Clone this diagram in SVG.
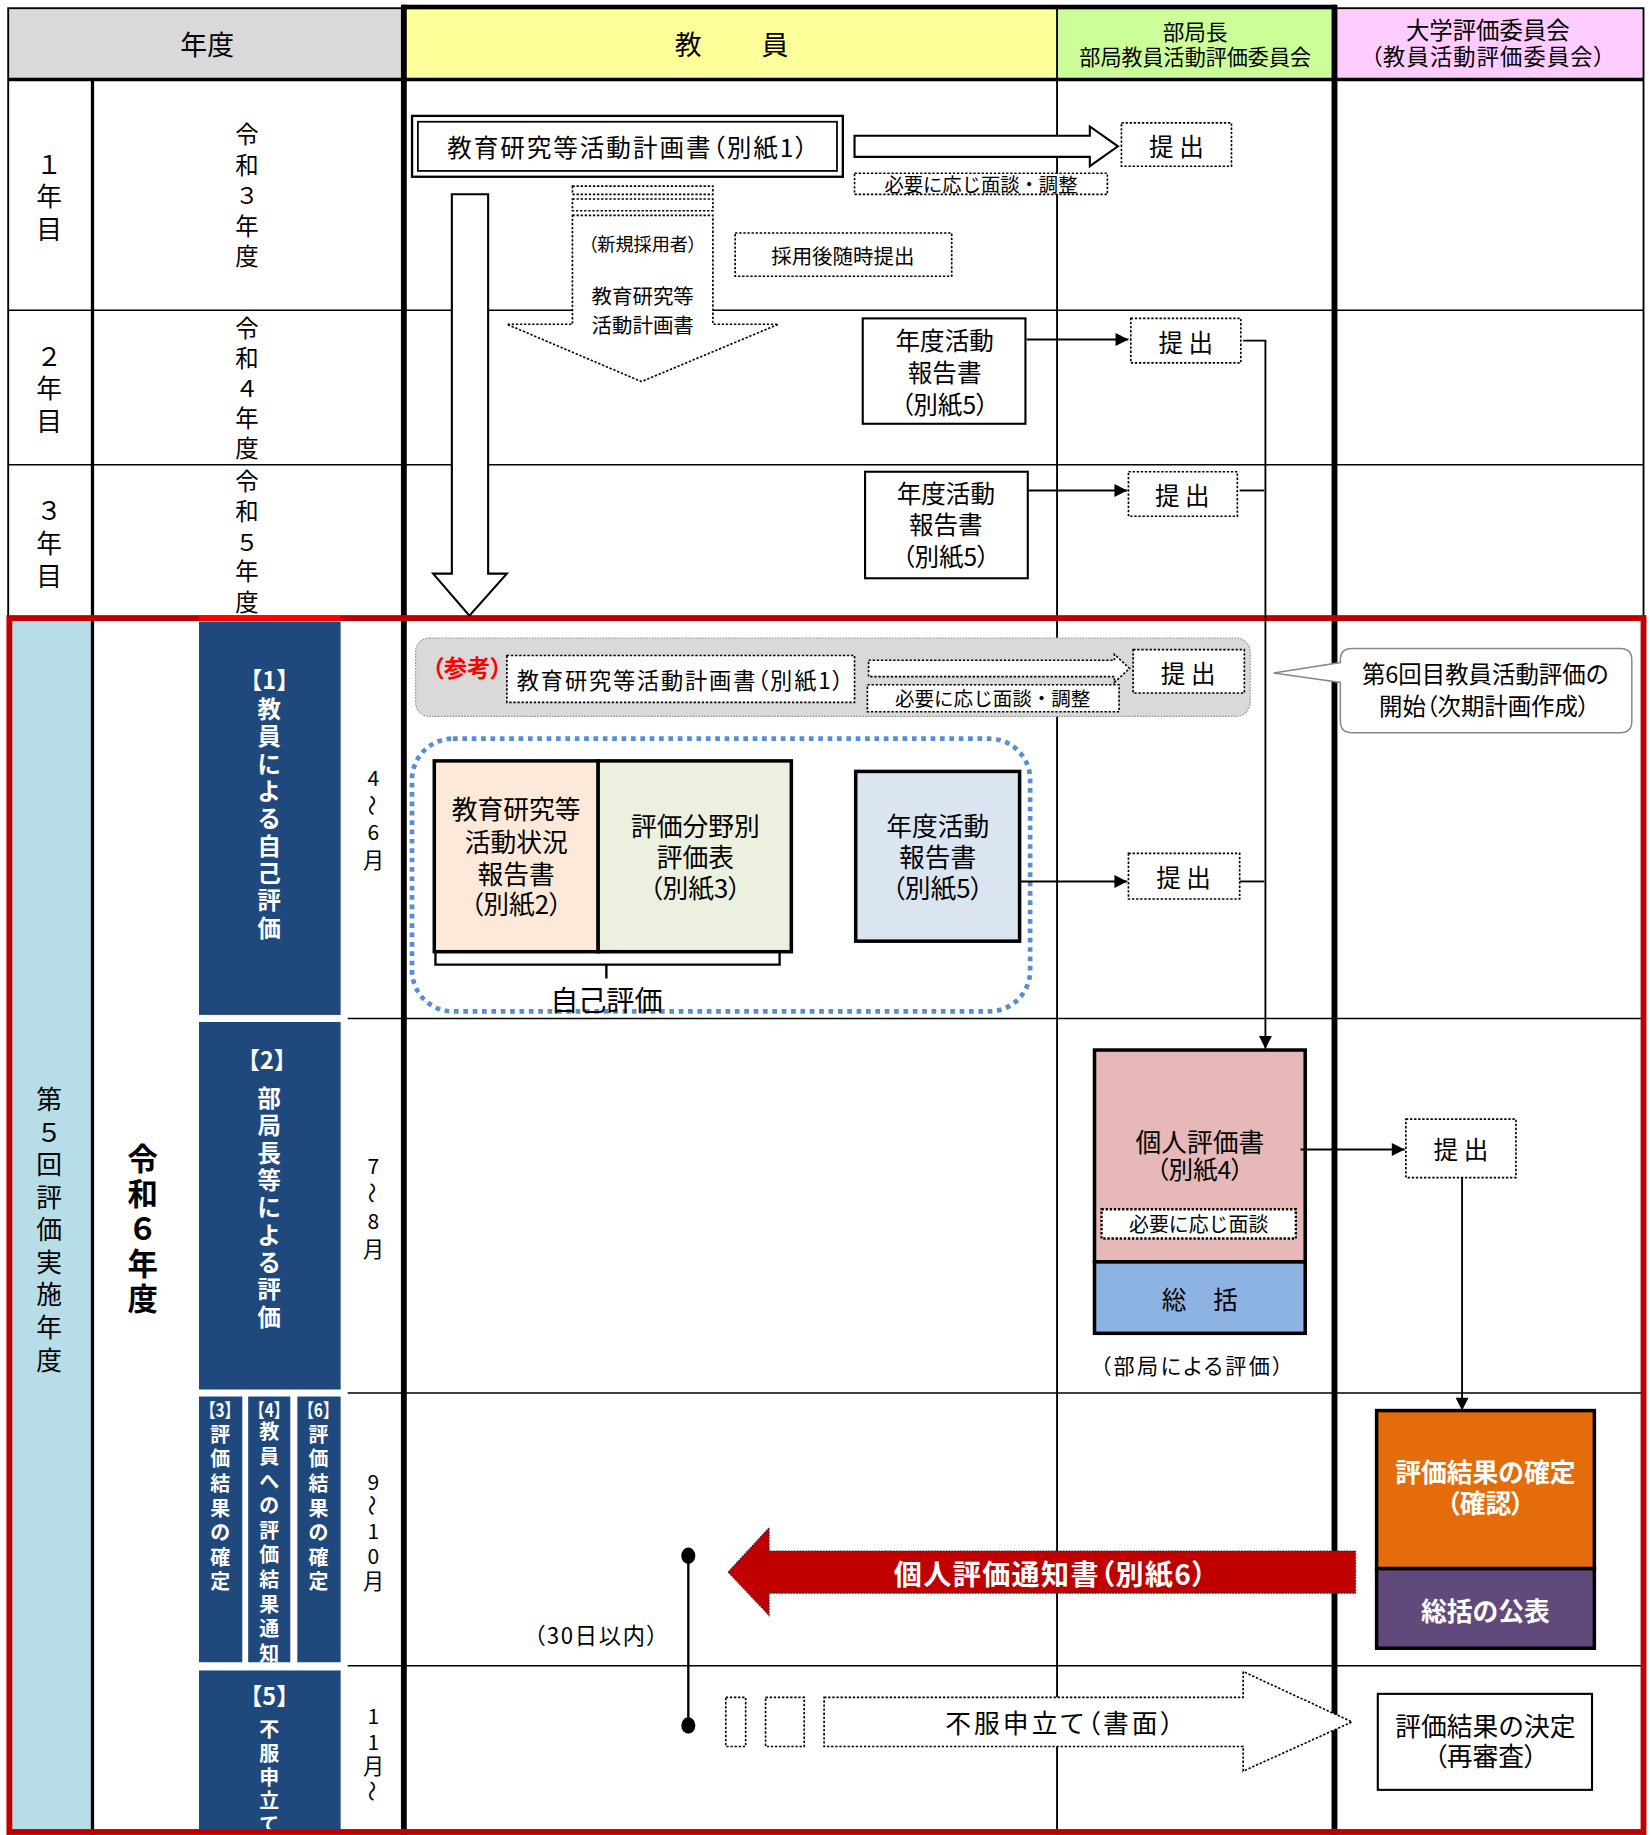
<svg xmlns="http://www.w3.org/2000/svg" width="1651" height="1835" viewBox="0 0 1651 1835">
<defs>
<style>
text{font-family:"Noto Sans CJK JP","Noto Sans",sans-serif;fill:#000;text-anchor:middle;dominant-baseline:central}
.p{font-feature-settings:"palt"}
.b{font-weight:bold}
.w{fill:#fff}
.dot{fill:#fff;stroke:#000;stroke-width:1.4;stroke-dasharray:2 1.5}
.box{fill:#fff;stroke:#000;stroke-width:1.8}
.thin{stroke:#000;stroke-width:1.3;fill:none}
.conn{stroke:#000;stroke-width:1.6;fill:none}
.navy{fill:#1f497d}
</style>
<marker id="ah" viewBox="0 0 10 10" refX="10" refY="5" markerWidth="13" markerHeight="11" markerUnits="userSpaceOnUse" orient="auto"><path d="M0,0 L10,5 L0,10 z" fill="#000"/></marker>
</defs>
<rect width="1651" height="1835" fill="#fff"/>
<g transform="scale(1.1706)">

<g id="grid">
<rect x="7" y="7" width="336" height="61" fill="#d9d9d9"/>
<rect x="345" y="7" width="558" height="61" fill="#ffff99"/>
<rect x="903" y="7" width="237" height="61" fill="#ccff99"/>
<rect x="1140" y="7" width="264" height="61" fill="#ffccff"/>
<rect x="9" y="530" width="69" height="1036" fill="#b7dde8"/>
<line x1="7" y1="68" x2="1404" y2="68" stroke="#000" stroke-width="3"/>
<line x1="7" y1="265" x2="1404" y2="265" class="thin"/>
<line x1="7" y1="397" x2="1404" y2="397" class="thin"/>
<line x1="297" y1="870" x2="1404" y2="870" class="thin"/>
<line x1="297" y1="1190" x2="1404" y2="1190" class="thin"/>
<line x1="297" y1="1423" x2="1404" y2="1423" class="thin"/>
<line x1="79" y1="68" x2="79" y2="1568" stroke="#000" stroke-width="2.8"/>
<line x1="903" y1="7" x2="903" y2="1568" stroke="#000" stroke-width="1.6"/>
<rect x="7" y="7" width="1397" height="1565" fill="none" stroke="#000" stroke-width="1.6"/>
<line x1="345" y1="4" x2="345" y2="1568" stroke="#000" stroke-width="5"/>
<line x1="1140" y1="4" x2="1140" y2="1568" stroke="#000" stroke-width="5"/>
<line x1="343" y1="6" x2="1142" y2="6" stroke="#000" stroke-width="4"/>
</g>

<g id="headers">
<text x="177" y="37" font-size="23">年度</text>
<text x="588" y="37" font-size="23">教</text>
<text x="662" y="37" font-size="23">員</text>
<text x="1021" y="26" font-size="18.5">部局長</text>
<text x="1021" y="48" font-size="18">部局教員活動評価委員会</text>
<text x="1271" y="25" font-size="20">大学評価委員会</text>
<text x="1271" y="47" font-size="19" class="p" textLength="200">（教員活動評価委員会）</text>
</g>

<g id="year-labels">
<text font-size="22"><tspan x="42" y="138">１</tspan><tspan x="42" y="166">年</tspan><tspan x="42" y="194">目</tspan></text>
<text font-size="20"><tspan x="211" y="114">令</tspan><tspan x="211" y="140">和</tspan><tspan x="211" y="166">３</tspan><tspan x="211" y="192">年</tspan><tspan x="211" y="218">度</tspan></text>
<text font-size="22"><tspan x="42" y="302">２</tspan><tspan x="42" y="330">年</tspan><tspan x="42" y="358">目</tspan></text>
<text font-size="20"><tspan x="211" y="279">令</tspan><tspan x="211" y="305">和</tspan><tspan x="211" y="331">４</tspan><tspan x="211" y="356">年</tspan><tspan x="211" y="382">度</tspan></text>
<text font-size="22"><tspan x="42" y="434">３</tspan><tspan x="42" y="462">年</tspan><tspan x="42" y="490">目</tspan></text>
<text font-size="20"><tspan x="211" y="410">令</tspan><tspan x="211" y="436">和</tspan><tspan x="211" y="462">５</tspan><tspan x="211" y="487">年</tspan><tspan x="211" y="513">度</tspan></text>
<text font-size="22"><tspan x="42" y="937">第</tspan><tspan x="42" y="965">５</tspan><tspan x="42" y="993">回</tspan><tspan x="42" y="1021">評</tspan><tspan x="42" y="1048">価</tspan><tspan x="42" y="1076">実</tspan><tspan x="42" y="1104">施</tspan><tspan x="42" y="1132">年</tspan><tspan x="42" y="1160">度</tspan></text>
<text font-size="26" class="b"><tspan x="122" y="988">令</tspan><tspan x="122" y="1018">和</tspan><tspan x="122" y="1048">６</tspan><tspan x="122" y="1078">年</tspan><tspan x="122" y="1108">度</tspan></text>
</g>

<g id="phase-1">
<rect x="170" y="531" width="121" height="336" class="navy"/>
<text x="230" y="580" font-size="20" class="b w">【1】</text>
<text font-size="20" class="b w"><tspan x="230" y="605">教</tspan><tspan x="230" y="628">員</tspan><tspan x="230" y="652">に</tspan><tspan x="230" y="675">よ</tspan><tspan x="230" y="698">る</tspan><tspan x="230" y="722">自</tspan><tspan x="230" y="745">己</tspan><tspan x="230" y="768">評</tspan><tspan x="230" y="792">価</tspan></text>
</g>
<g id="phase-2">
<rect x="170" y="873" width="121" height="314" class="navy"/>
<text x="228" y="905" font-size="20" class="b w">【2】</text>
<text font-size="20" class="b w"><tspan x="230" y="937">部</tspan><tspan x="230" y="960">局</tspan><tspan x="230" y="984">長</tspan><tspan x="230" y="1007">等</tspan><tspan x="230" y="1030">に</tspan><tspan x="230" y="1054">よ</tspan><tspan x="230" y="1077">る</tspan><tspan x="230" y="1100">評</tspan><tspan x="230" y="1124">価</tspan></text>
</g>
<g id="phase-3">
<rect x="170" y="1193" width="37" height="227" class="navy"/>
<text x="188" y="1203" font-size="16" class="b w" textLength="34" lengthAdjust="spacingAndGlyphs">【3】</text>
<text font-size="17" class="b w"><tspan x="188" y="1224">評</tspan><tspan x="188" y="1245">価</tspan><tspan x="188" y="1266">結</tspan><tspan x="188" y="1287">果</tspan><tspan x="188" y="1308">の</tspan><tspan x="188" y="1329">確</tspan><tspan x="188" y="1350">定</tspan></text>
</g>
<g id="phase-4">
<rect x="212" y="1193" width="36" height="227" class="navy"/>
<text x="230" y="1203" font-size="16" class="b w" textLength="34" lengthAdjust="spacingAndGlyphs">【4】</text>
<text font-size="17" class="b w"><tspan x="230" y="1222">教</tspan><tspan x="230" y="1243">員</tspan><tspan x="230" y="1264">へ</tspan><tspan x="230" y="1285">の</tspan><tspan x="230" y="1306">評</tspan><tspan x="230" y="1327">価</tspan><tspan x="230" y="1348">結</tspan><tspan x="230" y="1369">果</tspan><tspan x="230" y="1390">通</tspan><tspan x="230" y="1411">知</tspan></text>
</g>
<g id="phase-6">
<rect x="254" y="1193" width="37" height="227" class="navy"/>
<text x="272" y="1203" font-size="16" class="b w" textLength="34" lengthAdjust="spacingAndGlyphs">【6】</text>
<text font-size="17" class="b w"><tspan x="272" y="1224">評</tspan><tspan x="272" y="1245">価</tspan><tspan x="272" y="1266">結</tspan><tspan x="272" y="1287">果</tspan><tspan x="272" y="1308">の</tspan><tspan x="272" y="1329">確</tspan><tspan x="272" y="1350">定</tspan></text>
</g>
<g id="phase-5">
<rect x="170" y="1427" width="121" height="139" class="navy"/>
<text x="230" y="1448" font-size="20" class="b w">【5】</text>
<text font-size="17" class="b w"><tspan x="230" y="1476">不</tspan><tspan x="230" y="1497">服</tspan><tspan x="230" y="1517">申</tspan><tspan x="230" y="1537">立</tspan><tspan x="230" y="1557">て</tspan></text>
</g>

<g id="months" font-size="18">
<text x="319" y="664">4</text><text x="319" y="688" transform="rotate(90 319 688)">～</text><text x="319" y="710">6</text><text x="319" y="734">月</text>
<text x="319" y="995">7</text><text x="319" y="1019" transform="rotate(90 319 1019)">～</text><text x="319" y="1042">8</text><text x="319" y="1066">月</text>
<text x="319" y="1265">9</text><text x="319" y="1286" transform="rotate(90 319 1286)">～</text><text x="319" y="1307">1</text><text x="319" y="1328">0</text><text x="319" y="1350">月</text>
<text x="319" y="1465">1</text><text x="319" y="1487">1</text><text x="319" y="1508">月</text><text x="319" y="1530" transform="rotate(90 319 1530)">～</text>
</g>

<g id="red-frame">
<rect x="8" y="528" width="1396" height="1037" fill="none" stroke="#c00000" stroke-width="5"/>
<line x1="170" y1="528" x2="291" y2="528" stroke="#ff0000" stroke-width="4"/>
</g>

<g id="plan-box">
<rect x="352" y="99" width="368" height="52" fill="#fff" stroke="#000" stroke-width="2"/>
<rect x="357" y="104" width="358" height="42" fill="none" stroke="#000" stroke-width="1.5"/>
<text x="536" y="125" font-size="21" class="p" textLength="308">教育研究等活動計画書（別紙1）</text>
</g>
<g id="big-down-arrow">
<polygon points="386,166 417,166 417,490 433,490 401,526 370,490 386,490" class="box" stroke-width="1.5"/>
</g>
<g id="plan-submit-arrow">
<polygon points="730,116 931,116 931,108 955,125 931,142 931,134 730,134" class="box" stroke-width="1.5"/>
</g>
<g id="plan-talk">
<rect x="730" y="148" width="216" height="18" class="dot"/>
<text x="838" y="157" font-size="16.5">必要に応じ面談・調整</text>
</g>
<g id="submit-1">
<rect x="958" y="105" width="94" height="37" class="dot"/>
<text x="1005" y="124" font-size="21">提 出</text>
</g>
<g id="new-hire-arrow">
<rect x="489" y="159" width="120" height="7" class="dot"/>
<rect x="489" y="170" width="120" height="10" class="dot"/>
<polygon points="489,184 609,184 609,277 665,277 548,326 433,277 489,277" class="dot"/>
<text x="549" y="208" font-size="15.5" class="p">（新規採用者）</text>
<text x="549" y="252" font-size="17.5">教育研究等</text>
<text x="549" y="277" font-size="17.5">活動計画書</text>
</g>
<g id="hire-note">
<rect x="628" y="199" width="185" height="37" class="dot"/>
<text x="720" y="218" font-size="17.5">採用後随時提出</text>
</g>
<g id="report-y2">
<rect x="737" y="272" width="139" height="90" class="box"/>
<text x="807" y="290" font-size="21">年度活動</text>
<text x="807" y="317" font-size="21">報告書</text>
<text x="807" y="344" font-size="21" class="p">（別紙5）</text>
</g>
<g id="submit-y2">
<rect x="966" y="272" width="94" height="38" class="dot"/>
<text x="1013" y="291" font-size="21">提 出</text>
</g>
<g id="report-y3">
<rect x="739" y="403" width="139" height="91" class="box"/>
<text x="808" y="420" font-size="21">年度活動</text>
<text x="808" y="447" font-size="21">報告書</text>
<text x="808" y="474" font-size="21" class="p">（別紙5）</text>
</g>
<g id="submit-y3">
<rect x="964" y="403" width="93" height="38" class="dot"/>
<text x="1010" y="422" font-size="21">提 出</text>
</g>

<g id="reference-band">
<rect x="355" y="545" width="713" height="67" rx="12" fill="#d9d9d9" stroke="#999" stroke-width="1" stroke-dasharray="1.5 1"/>
<text x="399" y="570" font-size="20" class="b p" style="fill:#ff0000">（参考）</text>
<rect x="433" y="560" width="297" height="40" class="dot"/>
<text x="581" y="580" font-size="19" class="p" textLength="279">教育研究等活動計画書（別紙1）</text>
<polygon points="742,564 952,564 952,559 965,571 952,583 952,578 742,578" class="dot"/>
<rect x="741" y="585" width="215" height="23" class="dot"/>
<text x="848" y="596" font-size="16.7">必要に応じ面談・調整</text>
<rect x="968" y="555" width="95" height="37" class="dot"/>
<text x="1015" y="574" font-size="21">提 出</text>
</g>
<g id="callout">
<path d="M1155,554 H1384 Q1394,554 1394,564 V616 Q1394,626 1384,626 H1155 Q1145,626 1145,616 V583 L1088,575 L1145,566 V564 Q1145,554 1155,554 Z" fill="#fff" stroke="#888" stroke-width="1.3"/>
<text x="1269" y="575" font-size="20">第6回目教員活動評価の</text>
<text x="1268" y="602" font-size="20" class="p">開始（次期計画作成）</text>
</g>

<g id="self-eval">
<rect x="352" y="631" width="528" height="233" rx="35" fill="none" stroke="#558ed5" stroke-width="4" stroke-dasharray="4 4"/>
<rect x="371" y="650" width="140" height="163" fill="#fde9d9" stroke="#000" stroke-width="3"/>
<text x="441" y="690" font-size="22">教育研究等</text>
<text x="441" y="718" font-size="22">活動状況</text>
<text x="441" y="745" font-size="22">報告書</text>
<text x="441" y="771" font-size="22" class="p">（別紙2）</text>
<rect x="511" y="650" width="165" height="163" fill="#ebf1de" stroke="#000" stroke-width="3"/>
<text x="594" y="704" font-size="22">評価分野別</text>
<text x="594" y="731" font-size="22">評価表</text>
<text x="594" y="757" font-size="22" class="p">（別紙3）</text>
<path d="M372,814 V824 H666 V814 M518,824 V836" fill="none" stroke="#000" stroke-width="2"/>
<text x="518" y="853" font-size="24">自己評価</text>
</g>
<g id="report-y4">
<rect x="731" y="659" width="140" height="145" fill="#dbe5f1" stroke="#000" stroke-width="3"/>
<text x="801" y="704" font-size="22">年度活動</text>
<text x="801" y="731" font-size="22">報告書</text>
<text x="801" y="757" font-size="22" class="p">（別紙5）</text>
</g>
<g id="submit-y4">
<rect x="964" y="729" width="95" height="39" class="dot"/>
<text x="1011" y="748" font-size="21">提 出</text>
</g>

<g id="dept-eval">
<rect x="935" y="897" width="180" height="181" fill="#e6b8b7" stroke="#000" stroke-width="3"/>
<rect x="935" y="1078" width="180" height="61" fill="#8db3e2" stroke="#000" stroke-width="3"/>
<text x="1025" y="974" font-size="22">個人評価書</text>
<text x="1025" y="998" font-size="21" class="p">（別紙4）</text>
<rect x="941" y="1033" width="166" height="25" fill="#fff" stroke="#000" stroke-width="2" stroke-dasharray="2 1.5"/>
<text x="1024" y="1045" font-size="17">必要に応じ面談</text>
<text x="1003" y="1109" font-size="21">総</text>
<text x="1047" y="1109" font-size="21">括</text>
<text x="1018" y="1166" font-size="18" class="p" textLength="156">（部局による評価）</text>
</g>
<g id="submit-univ">
<rect x="1201" y="956" width="94" height="50" class="dot"/>
<text x="1248" y="981" font-size="21">提 出</text>
</g>
<g id="univ-result">
<rect x="1176" y="1205" width="186" height="135" fill="#e46c0a" stroke="#000" stroke-width="3"/>
<rect x="1176" y="1340" width="186" height="68" fill="#604a7b" stroke="#000" stroke-width="3"/>
<text x="1269" y="1256" font-size="22" class="b w">評価結果の確定</text>
<text x="1269" y="1283" font-size="22" class="b w p">（確認）</text>
<text x="1269" y="1375" font-size="22" class="b w">総括の公表</text>
</g>
<g id="notice-arrow">
<polygon points="622,1343 657,1305 657,1325 1158,1325 1158,1361 657,1361 657,1380" fill="#c00000" stroke="#333" stroke-width="1" stroke-dasharray="1.5 1"/>
<text x="897" y="1343" font-size="24" class="b w p" textLength="267">個人評価通知書（別紙6）</text>
</g>
<g id="thirty-days">
<line x1="588" y1="1329" x2="588" y2="1474" stroke="#000" stroke-width="2"/>
<ellipse cx="588" cy="1329" rx="6" ry="7"/>
<ellipse cx="588" cy="1474" rx="6" ry="7"/>
<text x="509" y="1396" font-size="19" class="p" textLength="106">（30日以内）</text>
</g>
<g id="appeal-arrow">
<rect x="620" y="1450" width="17" height="42" class="dot"/>
<rect x="654" y="1450" width="33" height="42" class="dot"/>
<polygon points="704,1450 1062,1450 1062,1428 1155,1471 1062,1513 1062,1492 704,1492" class="dot"/>
<text x="905" y="1471" font-size="22" class="p" textLength="195">不服申立て（書面）</text>
</g>
<g id="reexam">
<rect x="1177" y="1447" width="183" height="82" class="box" stroke-width="2"/>
<text x="1269" y="1473" font-size="22">評価結果の決定</text>
<text x="1269" y="1499" font-size="22" class="p">（再審査）</text>
</g>

<g id="connectors">
<path d="M877,290 H964" class="conn" marker-end="url(#ah)"/>
<path d="M878,419 H963" class="conn" marker-end="url(#ah)"/>
<path d="M871,753 H963" class="conn" marker-end="url(#ah)"/>
<path d="M1062,291 H1081 V896" class="conn" marker-end="url(#ah)"/>
<path d="M1059,419 H1080" class="conn"/>
<path d="M1059,753 H1080" class="conn"/>
<path d="M1111,982 H1200" class="conn" marker-end="url(#ah)"/>
<path d="M1249,1006 V1205" class="conn" marker-end="url(#ah)"/>
</g>

</g>
</svg>
